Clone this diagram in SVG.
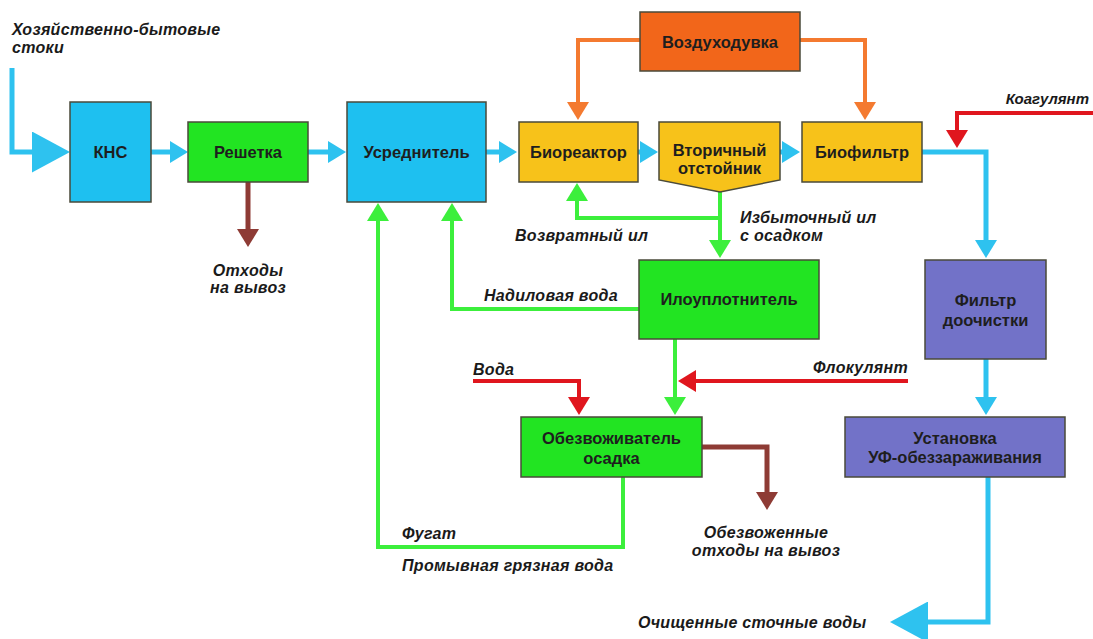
<svg xmlns="http://www.w3.org/2000/svg" width="1093" height="639" viewBox="0 0 1093 639">
<style>
.box{stroke:#4a4a3a;stroke-width:1.5}
.cy{fill:#1ec0f0}.gr{fill:#22e422}.ye{fill:#f7c21a}.or{fill:#f2661a}.pu{fill:#7272c8}
.bt{font-family:"Liberation Sans",Arial,sans-serif;font-weight:bold;font-size:16.5px;fill:#1e1e1e;text-anchor:middle}
.lb{font-family:"Liberation Sans",Arial,sans-serif;font-weight:bold;font-style:italic;font-size:16px;letter-spacing:0.3px;fill:#1a1a1a}
.c{fill:none;stroke-linejoin:miter}
.lc{stroke:#2ec2ef;stroke-width:5}
.lg{stroke:#3cef3c;stroke-width:4}
.lr{stroke:#e0161e;stroke-width:4}
.lo{stroke:#f47a30;stroke-width:4}
.lbr{stroke:#8e3b35;stroke-width:5}
</style>
<defs>
<marker id="aC" markerUnits="userSpaceOnUse" viewBox="0 0 18 22" refX="8" refY="11" markerWidth="18" markerHeight="22" orient="auto"><path d="M0,0L18,11L0,22z" fill="#2ec2ef"/></marker>
<marker id="aG" markerUnits="userSpaceOnUse" viewBox="0 0 18 22" refX="8" refY="11" markerWidth="18" markerHeight="22" orient="auto"><path d="M0,0L18,11L0,22z" fill="#3cef3c"/></marker>
<marker id="aR" markerUnits="userSpaceOnUse" viewBox="0 0 18 22" refX="8" refY="11" markerWidth="18" markerHeight="22" orient="auto"><path d="M0,0L18,11L0,22z" fill="#e0161e"/></marker>
<marker id="aO" markerUnits="userSpaceOnUse" viewBox="0 0 18 22" refX="8" refY="11" markerWidth="18" markerHeight="22" orient="auto"><path d="M0,0L18,11L0,22z" fill="#f47a30"/></marker>
<marker id="aB" markerUnits="userSpaceOnUse" viewBox="0 0 18 22" refX="8" refY="11" markerWidth="18" markerHeight="22" orient="auto"><path d="M0,0L18,11L0,22z" fill="#8e3b35"/></marker>
<marker id="aBig" markerUnits="userSpaceOnUse" viewBox="0 0 38 41" refX="28" refY="20.5" markerWidth="38" markerHeight="41" orient="auto"><path d="M0,0L38,20.5L0,41z" fill="#2ec2ef"/></marker>
</defs>
<rect width="1093" height="639" fill="#ffffff"/>

<g id="connectors">
<path class="c lc" d="M12,68V152H60" marker-end="url(#aBig)"/>
<path class="c lc" d="M151,152H178" marker-end="url(#aC)"/>
<path class="c lc" d="M308,152H336" marker-end="url(#aC)"/>
<path class="c lc" d="M486,152H507" marker-end="url(#aC)"/>
<path class="c lc" d="M638,152H648" marker-end="url(#aC)"/>
<path class="c lc" d="M780,152H790" marker-end="url(#aC)"/>
<path class="c lc" d="M922,152H986V248" marker-end="url(#aC)"/>
<path class="c lc" d="M986,359V405" marker-end="url(#aC)"/>
<path class="c lc" d="M988,477V622H900" marker-end="url(#aBig)"/>
<path class="c lo" d="M640,40H578V110" marker-end="url(#aO)"/>
<path class="c lo" d="M800,40H865V110" marker-end="url(#aO)"/>
<path class="c lr" d="M1093,113H957V138" marker-end="url(#aR)"/>
<path class="c lr" d="M473,381H579V405" marker-end="url(#aR)"/>
<path class="c lr" d="M908,381H688" marker-end="url(#aR)"/>
<path class="c lg" d="M720,192V218H577V193" marker-end="url(#aG)"/>
<path class="c lg" d="M720,218V248" marker-end="url(#aG)"/>
<path class="c lg" d="M639,309H452V213" marker-end="url(#aG)"/>
<path class="c lg" d="M675,339V405" marker-end="url(#aG)"/>
<path class="c lg" d="M623,477V547H378V213" marker-end="url(#aG)"/>
<path class="c lbr" d="M248,182V237" marker-end="url(#aB)"/>
<path class="c lbr" d="M702,447H767V500" marker-end="url(#aB)"/>
</g>

<g id="kns"><rect class="box cy" x="70" y="102" width="81" height="100"/><text class="bt" x="110.5" y="158">КНС</text></g>
<g id="reshetka"><rect class="box gr" x="188" y="122" width="120" height="60"/><text class="bt" x="248" y="158">Решетка</text></g>
<g id="usrednitel"><rect class="box cy" x="347" y="102" width="139" height="100"/><text class="bt" x="416.5" y="158">Усреднитель</text></g>
<g id="bioreaktor"><rect class="box ye" x="519" y="122" width="119" height="60"/><text class="bt" x="578.5" y="158">Биореактор</text></g>
<g id="otstoinik"><path class="box ye" d="M659,122H780V180L720,192L659,180Z"/><text class="bt" x="719.5" y="156">Вторичный</text><text class="bt" x="719.5" y="174">отстойник</text></g>
<g id="biofiltr"><rect class="box ye" x="802" y="122" width="120" height="60"/><text class="bt" x="862" y="158">Биофильтр</text></g>
<g id="vozduhoduvka"><rect class="box or" x="640" y="12" width="160" height="59"/><text class="bt" x="720" y="48">Воздуходувка</text></g>
<g id="iloupl"><rect class="box gr" x="639" y="260" width="180" height="79"/><text class="bt" x="729" y="305">Илоуплотнитель</text></g>
<g id="obezvozh"><rect class="box gr" x="521" y="417" width="181" height="60"/><text class="bt" x="611.5" y="444">Обезвоживатель</text><text class="bt" x="611.5" y="464">осадка</text></g>
<g id="filtr"><rect class="box pu" x="925" y="260" width="121" height="99"/><text class="bt" x="985.5" y="306">Фильтр</text><text class="bt" x="985.5" y="326">доочистки</text></g>
<g id="uf"><rect class="box pu" x="845" y="417" width="220" height="60"/><text class="bt" x="955" y="444">Установка</text><text class="bt" x="955" y="463">УФ-обеззараживания</text></g>

<g id="labels">
<text class="lb" x="12" y="35">Хозяйственно-бытовые</text>
<text class="lb" x="12" y="53">стоки</text>
<text class="lb" x="248" y="276" text-anchor="middle">Отходы</text>
<text class="lb" x="248" y="293" text-anchor="middle">на вывоз</text>
<text class="lb" x="515" y="241">Возвратный ил</text>
<text class="lb" x="740" y="223">Избыточный ил</text>
<text class="lb" x="740" y="241">с осадком</text>
<text class="lb" x="484" y="301">Надиловая вода</text>
<text class="lb" x="473" y="375">Вода</text>
<text class="lb" x="908" y="373" text-anchor="end">Флокулянт</text>
<text class="lb" x="1089" y="104" text-anchor="end" style="font-size:15px;letter-spacing:0">Коагулянт</text>
<text class="lb" x="402" y="539">Фугат</text>
<text class="lb" x="402" y="571">Промывная грязная вода</text>
<text class="lb" x="766" y="538" text-anchor="middle">Обезвоженные</text>
<text class="lb" x="766" y="556" text-anchor="middle">отходы на вывоз</text>
<text class="lb" x="638" y="628">Очищенные сточные воды</text>
</g>
</svg>
